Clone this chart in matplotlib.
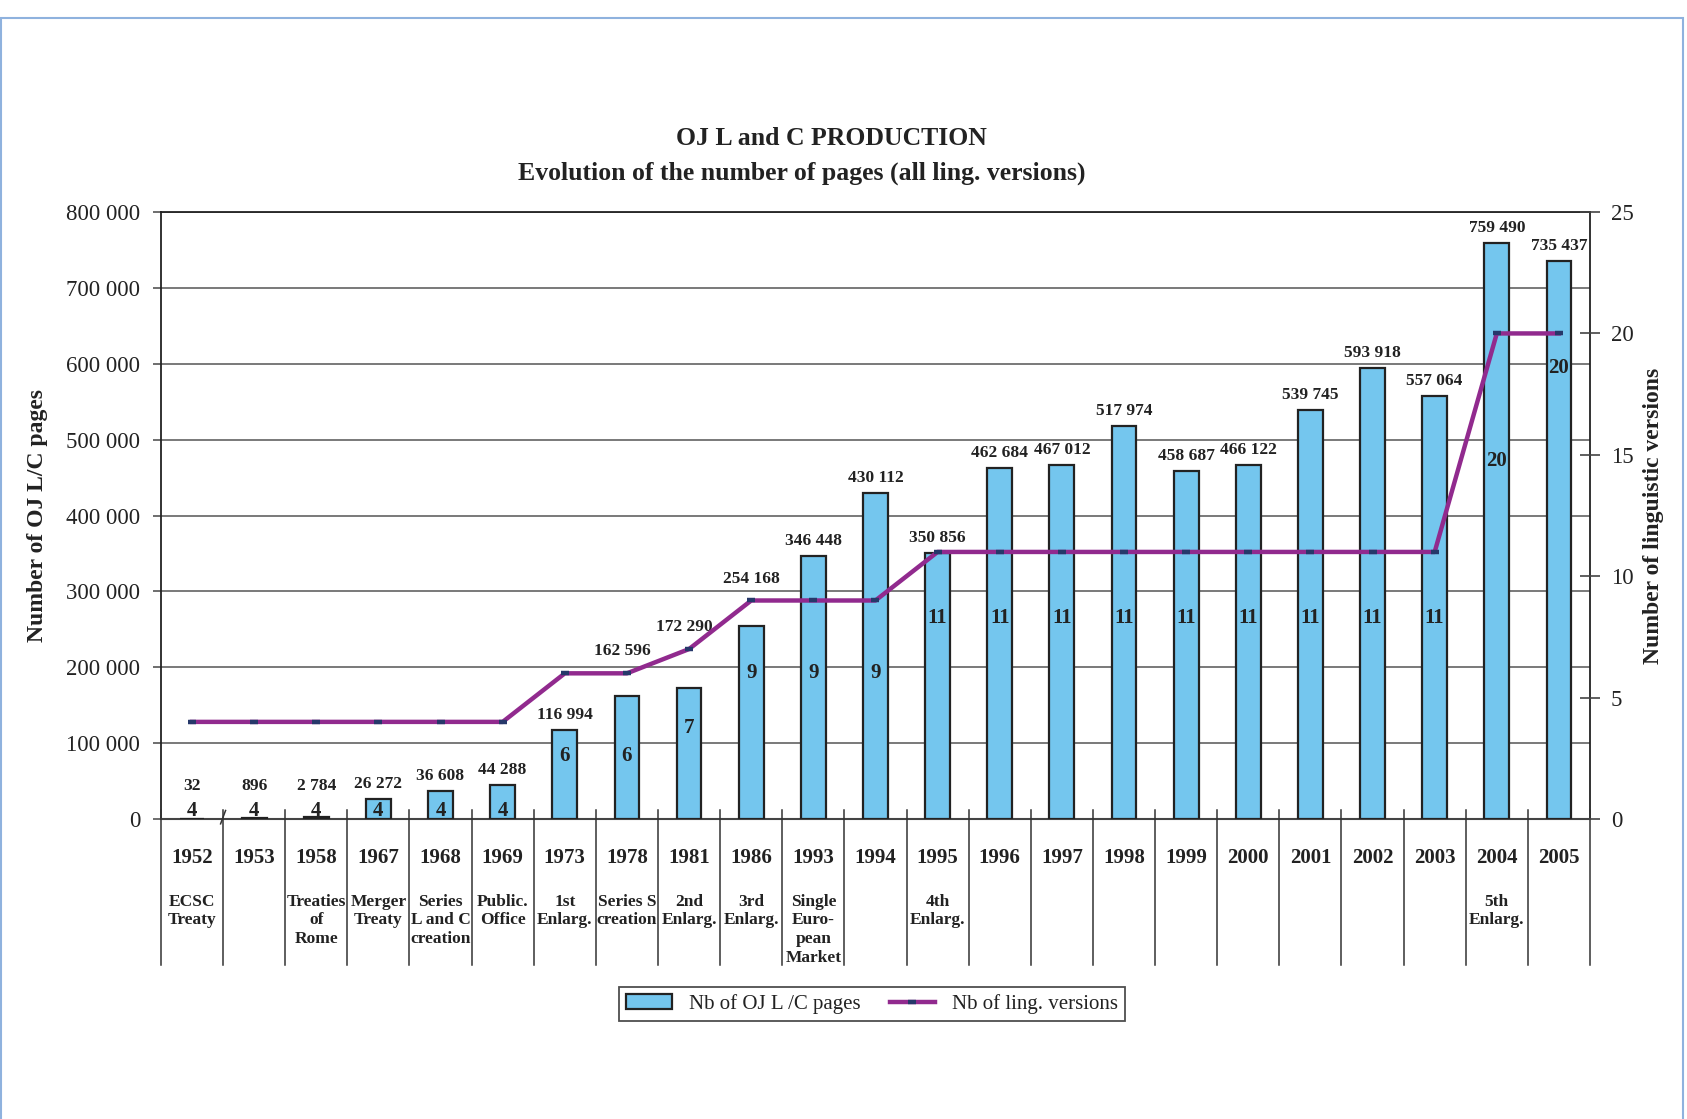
import numpy as np
import matplotlib.pyplot as plt
from matplotlib.patches import Rectangle
from matplotlib.transforms import blended_transform_factory

plt.rcParams['font.family'] = ['Liberation Serif', 'DejaVu Serif']

# data
years = ["1952", "1953", "1958", "1967", "1968", "1969", "1973", "1978", "1981",
         "1986", "1993", "1994", "1995", "1996", "1997", "1998", "1999", "2000",
         "2001", "2002", "2003", "2004", "2005"]
events = ["ECSC\nTreaty", "", "Treaties\nof\nRome", "Merger\nTreaty",
          "Series\nL and C\ncreation", "Public.\nOffice", "1st\nEnlarg.",
          "Series S\ncreation", "2nd\nEnlarg.", "3rd\nEnlarg.",
          "Single\nEuro-\npean\nMarket", "", "4th\nEnlarg.", "", "", "", "", "",
          "", "", "", "5th\nEnlarg.", ""]
pages = [32, 896, 2784, 26272, 36608, 44288, 116994, 162596, 172290, 254168,
         346448, 430112, 350856, 462684, 467012, 517974, 458687, 466122,
         539745, 593918, 557064, 759490, 735437]
versions = [4, 4, 4, 4, 4, 4, 6, 6, 7, 9, 9, 9, 11, 11, 11, 11, 11, 11, 11, 11,
            11, 20, 20]

bar_color = '#74C6EE'
line_color = '#912A8E'
marker_color = '#26386A'
grid_color = '#555555'
text_color = '#222222'

PAGES_MAX = 800000
VERS_MAX = 25


def fmt(v):
    return f"{v:,}".replace(",", " ")


fig = plt.figure(figsize=(16.87, 11.19), dpi=100)
ax = fig.add_axes([0.0954, 0.2681, 0.8471, 0.5424])
x = np.arange(len(years))

# page bars
bars = ax.bar(x, pages, width=0.4, color=bar_color, edgecolor='#222222',
              linewidth=1.6, zorder=3, label='Nb of OJ L /C pages')
ax.set_xlim(-0.5, len(years) - 0.5)
ax.set_ylim(0, PAGES_MAX)
ax.set_yticks(np.arange(0, PAGES_MAX + 1, 100000))
ax.set_yticklabels([fmt(v) for v in range(0, PAGES_MAX + 1, 100000)],
                   fontsize=16.5)
ax.yaxis.grid(True, color=grid_color, linewidth=1.1, zorder=0)
ax.set_axisbelow(True)
ax.set_xticks([])
ax.tick_params(axis='y', length=6, width=1.2, pad=9, color='#555555',
               labelcolor=text_color)
for s in ['left', 'right', 'top']:
    ax.spines[s].set_color('#222222')
    ax.spines[s].set_linewidth(1.3)
ax.spines['bottom'].set_color('#444444')
ax.spines['bottom'].set_linewidth(1.5)

# page labels: above the bar, or above the line when the line is just over it
for i, (xi, v, n) in enumerate(zip(x, pages, versions)):
    line_y = n * PAGES_MAX / VERS_MAX
    base, lift, dx = max(v, 24000), 5, 0
    if 10000 < line_y - v < 60000:
        base, lift = line_y, 10
        if i + 1 < len(versions) and versions[i + 1] > n:
            dx = -0.08
    ax.annotate(fmt(v), (xi + dx, base), xytext=(0, lift),
                textcoords='offset points', ha='center', va='bottom',
                fontsize=12.5, fontweight='bold', color=text_color, zorder=6)

# language versions line
ax2 = ax.twinx()
ax2.set_ylim(0, VERS_MAX)
ax2.set_yticks(range(0, VERS_MAX + 1, 5))
ax2.tick_params(axis='y', direction='inout', length=14, width=1.2, pad=8,
                labelsize=16.5, color='#444444', labelcolor=text_color)
line, = ax2.plot(x, versions, color=line_color, linewidth=3.2, zorder=5,
                 marker='_', markersize=6, markeredgewidth=3.2,
                 markeredgecolor=marker_color, label='Nb of ling. versions')
for s in ax2.spines.values():
    s.set_visible(False)

# version labels sit inside the bars, below the line
label_offsets = {21: -92, 22: -25}
for i, (xi, v) in enumerate(zip(x, versions)):
    off = label_offsets.get(i, -(74 - 2.4 * v))
    ax2.annotate(str(v), (xi, v), xytext=(0, off), textcoords='offset points',
                 ha='center', va='center', fontsize=15, fontweight='bold',
                 color=text_color, zorder=7)

# category table under the axis
tr = blended_transform_factory(ax.transData, ax.transAxes)
for b in np.arange(-0.5, len(years), 1.0):
    ax.plot([b, b], [0.015, -0.2405], transform=tr, color='#333333',
            linewidth=1.1, clip_on=False, zorder=4)
ax.plot([0.46, 0.54], [-0.008, 0.014], transform=tr, color='#333333',
        linewidth=1.1, clip_on=False, zorder=4)
for xi, yr, ev in zip(x, years, events):
    ax.text(xi, -0.064, yr, transform=tr, ha='center', va='center',
            fontsize=15, fontweight='bold', color=text_color)
    if ev:
        ax.text(xi, -0.123, ev, transform=tr, ha='center', va='top',
                fontsize=12.5, fontweight='bold', color=text_color,
                linespacing=1.22)

# titles and axis names
fig.text(0.493, 0.876, "OJ L and C PRODUCTION", ha='center', va='center',
         fontsize=18.5, fontweight='bold', color=text_color)
fig.text(0.4755, 0.845, "Evolution of the number of pages (all ling. versions)",
         ha='center', va='center', fontsize=18.5, fontweight='bold',
         color=text_color)
fig.text(0.0225, 0.539, "Number of OJ L/C pages", rotation=90, ha='center',
         va='center', fontsize=17, fontweight='bold', color=text_color)
fig.text(0.98, 0.539, "Number of linguistic versions", rotation=90,
         ha='center', va='center', fontsize=17, fontweight='bold',
         color=text_color)

leg = ax2.legend([bars, line], ['Nb of OJ L /C pages', 'Nb of ling. versions'],
                 loc='center', bbox_to_anchor=(0.517, 0.1028),
                 bbox_transform=fig.transFigure, ncol=2, fontsize=15,
                 frameon=True, fancybox=False, edgecolor='#222222',
                 handlelength=2.2, columnspacing=1.4, borderpad=0.35,
                 numpoints=1)
leg.get_frame().set_linewidth(1.3)
for t in leg.get_texts():
    t.set_color(text_color)

# light frame around the whole picture
fig.patches.append(Rectangle((0.0008, -0.01), 0.9968, 0.9938,
                             transform=fig.transFigure, fill=False,
                             edgecolor='#8FB2DE', linewidth=1.5))

fig.savefig('out.png', dpi=100)
